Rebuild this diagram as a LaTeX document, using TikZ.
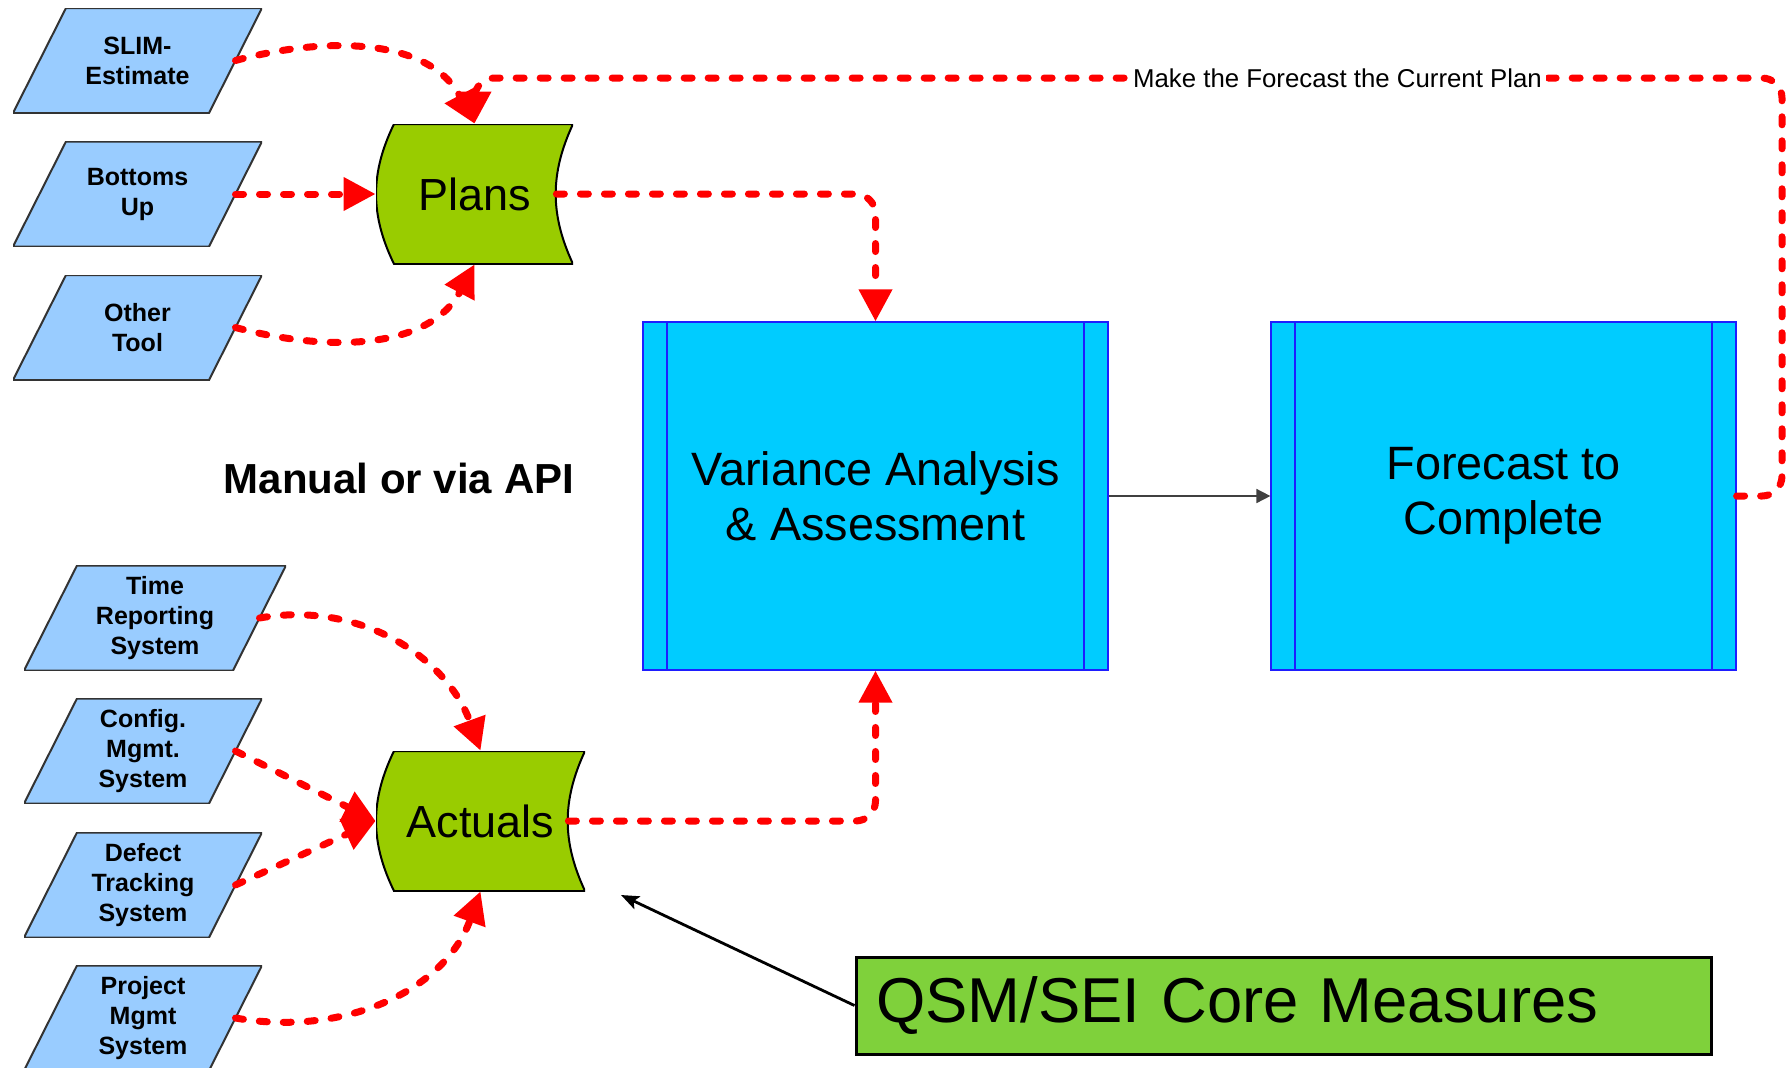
\documentclass[tikz,border=0pt]{standalone}
\usepackage{fontspec}
\setmainfont{Liberation Sans}
\usetikzlibrary{arrows.meta}

\definecolor{inputblue}{HTML}{99CCFF}
\definecolor{plangreen}{HTML}{99CC00}
\definecolor{proccyan}{HTML}{00CCFF}
\definecolor{procblue}{HTML}{1E1EFF}
\definecolor{qsmgreen}{HTML}{7FD13B}

\tikzset{
  input/.style={minimum height=52.5pt,outer xsep=-13.25pt,outer ysep=0pt,align=center,
    font=\bfseries\fontsize{12.5}{15}\selectfont,
    path picture={\draw[draw=black!80,fill=inputblue,line width=1pt]
      ([xshift=26.5pt]path picture bounding box.north west) --
      (path picture bounding box.north east) --
      ([xshift=-26.5pt]path picture bounding box.south east) --
      (path picture bounding box.south west) -- cycle;}},
  storebox/.style={minimum height=70pt,font=\fontsize{22.5}{27}\selectfont,
    path picture={\draw[fill=plangreen,line width=1pt]
      ([xshift=9pt]path picture bounding box.north west) to[bend right=26]
      ([xshift=9pt]path picture bounding box.south west) --
      (path picture bounding box.south east) to[bend left=25]
      (path picture bounding box.north east) -- cycle;}},
  procbox/.style={draw=procblue,fill=proccyan,line width=0.6pt,
    minimum width=232.5pt,minimum height=174pt,align=center,
    font=\fontsize{23.4}{27.5}\selectfont,
    path picture={\draw[procblue,line width=0.6pt]
      ([xshift=12pt]path picture bounding box.north west) --
      ([xshift=12pt]path picture bounding box.south west)
      ([xshift=-12pt]path picture bounding box.north east) --
      ([xshift=-12pt]path picture bounding box.south east);}},
  qsmbox/.style={draw=black,line width=1.5pt,fill=qsmgreen,text width=407.5pt,
    inner xsep=10pt,minimum height=48.5pt,align=left,font=\fontsize{31.7}{38}\selectfont},
  flow/.style={draw=red,line width=3.5pt,dash pattern=on 4pt off 8pt,line cap=round,
    -{Triangle[length=16pt,width=16pt]}},
  link/.style={draw=black!75,line width=0.8pt,-{Triangle[length=7pt,width=7pt]}},
  pointer/.style={draw=black,line width=1.4pt,-{Stealth[length=9pt,width=7pt,inset=2pt]}}
}

\begin{document}
\begin{tikzpicture}
[x=0.5pt,y=-0.5pt,every node/.style={inner sep=0pt}]
\useasboundingbox (0,0) rectangle (1787,1067);
% inputs for the plans
\node[input,minimum width=124.5pt] (slim) at (137.5,60.5) {SLIM-\\Estimate};
\node[input,minimum width=124.5pt] (bottoms) at (137.5,194) {Bottoms\\Up};
\node[input,minimum width=124.5pt] (other) at (137.5,327.5) {Other\\Tool};
% inputs for the actuals
\node[input,minimum width=131pt] (time) at (155,618) {Time\\Reporting\\System};
\node[input,minimum width=119pt] (config) at (143,751) {Config.\\Mgmt.\\System};
\node[input,minimum width=119pt] (defect) at (143,885) {Defect\\Tracking\\System};
\node[input,minimum width=119pt] (project) at (143,1018) {Project\\Mgmt\\System};
\node[storebox,minimum width=98.5pt] (plans) at (474.5,194) {Plans};
\node[storebox,minimum width=104.5pt] (actuals) at (480.5,821) {Actuals};
\node[font=\bfseries\fontsize{21}{25}\selectfont] (api) at (399,478) {Manual or via API};
\node[procbox] (variance) at (875.5,496) {Variance Analysis\\\& Assessment};
\node[procbox] (forecast) at (1503.5,496) {Forecast to\\Complete};
\node[qsmbox] (qsm) at (1283.5,1005.5) {QSM/SEI Core Measures};
\coordinate (fbr) at (1782,78);
\coordinate (qsmtip) at (621,895);
% red flows
\draw[flow] (slim.east) to[out=15,in=118] (plans.north);
\draw[flow] (bottoms.east) -- (plans.west);
\draw[flow] (other.east) to[out=-15,in=-118] (plans.south);
\draw[flow,rounded corners=10pt] ([xshift=-8.5pt]plans.east) -| (variance.north);
\draw[flow] (time.east) to[out=10,in=110] (actuals.north);
\draw[flow] (config.east) -- (actuals.west);
\draw[flow] (defect.east) -- (actuals.west);
\draw[flow] (project.east) to[out=-10,in=-110] (actuals.south);
\draw[flow,rounded corners=10pt] ([xshift=-8.5pt]actuals.east) -| (variance.south);
\draw[flow,rounded corners=10pt] (forecast.east) -| (fbr) -| node[pos=0.17,fill=white,inner xsep=2pt,inner ysep=1pt,font=\fontsize{12.9}{15}\selectfont]{Make the Forecast the Current Plan} (plans.north);
\draw[link] (variance) -- (forecast);
\draw[pointer] (qsm.west) -- (qsmtip);
\end{tikzpicture}
\end{document}
